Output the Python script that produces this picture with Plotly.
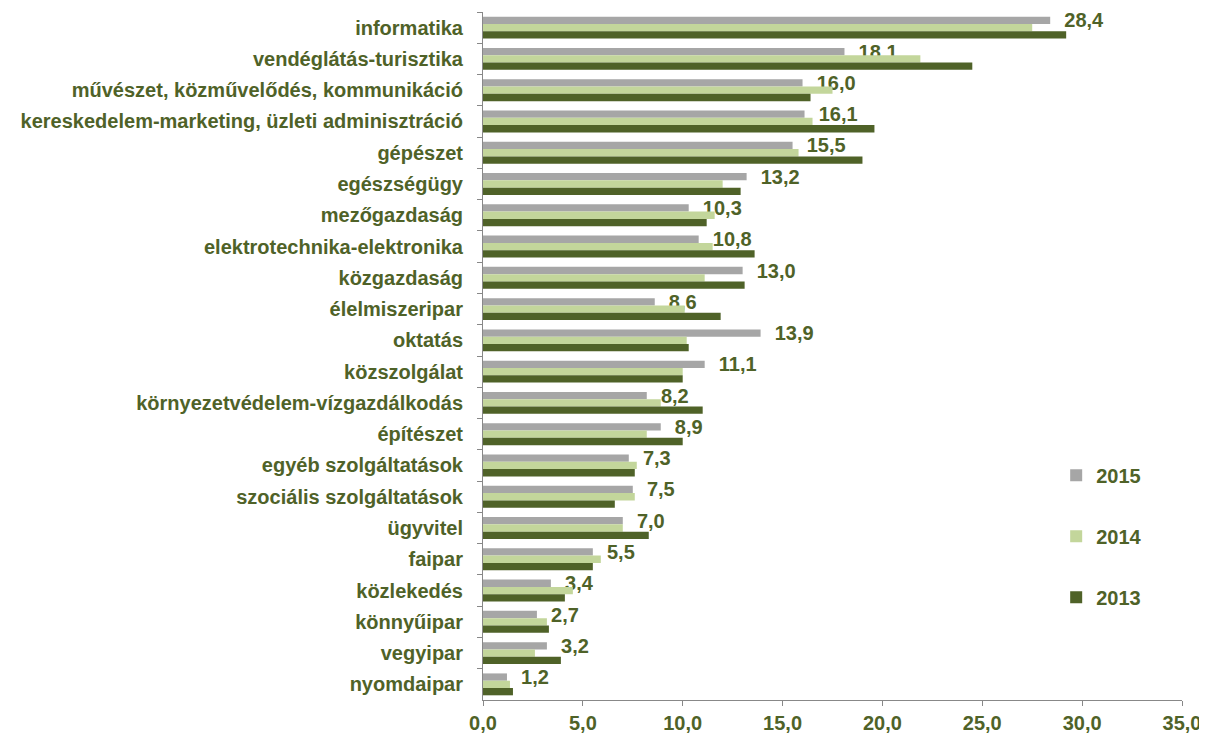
import plotly.graph_objects as go

categories = [
    "informatika", "vendéglátás-turisztika", "művészet, közművelődés, kommunikáció",
    "kereskedelem-marketing, üzleti adminisztráció", "gépészet", "egészségügy",
    "mezőgazdaság", "elektrotechnika-elektronika", "közgazdaság", "élelmiszeripar",
    "oktatás", "közszolgálat", "környezetvédelem-vízgazdálkodás", "építészet",
    "egyéb szolgáltatások", "szociális szolgáltatások", "ügyvitel", "faipar",
    "közlekedés", "könnyűipar", "vegyipar", "nyomdaipar",
]
v2015 = [28.4, 18.1, 16.0, 16.1, 15.5, 13.2, 10.3, 10.8, 13.0, 8.6, 13.9, 11.1,
         8.2, 8.9, 7.3, 7.5, 7.0, 5.5, 3.4, 2.7, 3.2, 1.2]
v2014 = [27.5, 21.9, 17.5, 16.5, 15.8, 12.0, 11.6, 11.5, 11.1, 10.1, 10.2, 10.0,
         8.9, 8.2, 7.7, 7.6, 7.0, 5.9, 4.5, 3.2, 2.6, 1.35]
v2013 = [29.2, 24.5, 16.4, 19.6, 19.0, 12.9, 11.2, 13.6, 13.1, 11.9, 10.3, 10.0,
         11.0, 10.0, 7.6, 6.6, 8.3, 5.5, 4.1, 3.3, 3.9, 1.5]
series_names = ["2015", "2014", "2013"]
tick_vals = [0, 5, 10, 15, 20, 25, 30, 35]

GREEN = "#4F6228"
colors = ["#A6A6A6", "#C3D69B", "#4F6228"]
FONT = "Liberation Sans, Arial, sans-serif"

fig = go.Figure()
for i, (name, vals) in enumerate(zip(series_names, [v2015, v2014, v2013])):
    kw = {}
    if name == "2015":
        kw = dict(text=["\u00a0\u00a0" + f"{v:.1f}".replace(".", ",") for v in vals],
                  textposition="outside", cliponaxis=False, constraintext="none",
                  textfont=dict(family=FONT, size=20, color=GREEN, weight="bold"))
    fig.add_trace(go.Bar(
        y=categories, x=vals, name=name, orientation="h",
        marker=dict(color=colors[i], line=dict(width=0)),
        legendgroup=name, hoverinfo="x+y", **kw,
    ))

fig.update_layout(
    width=1207, height=738,
    paper_bgcolor="white", plot_bgcolor="white",
    margin=dict(l=475, r=33, t=4, b=46),
    barmode="group", bargap=0.3, bargroupgap=0,
    separators=", ",
    font=dict(family=FONT, color=GREEN),
    showlegend=True,
    legend=dict(x=0.82, y=0.355, xanchor="left", yanchor="top",
                tracegroupgap=32, traceorder="grouped",
                font=dict(family=FONT, size=20, color=GREEN, weight="bold"),
                bgcolor="rgba(0,0,0,0)"),
    xaxis=dict(range=[0, 35], tickvals=tick_vals, tickformat=".1f",
               automargin=False,
               showgrid=False, zeroline=False, showline=True, linecolor="#888888",
               linewidth=1, ticks="outside", ticklen=5, tickcolor="#888888",
               tickfont=dict(family=FONT, size=20, color=GREEN, weight="bold")),
    yaxis=dict(autorange="reversed", showgrid=False, showline=True, automargin=False,
               linecolor="#888888", linewidth=1, ticks="outside", ticklen=5,
               tickcolor="#888888", tickson="boundaries",
               tickfont=dict(family=FONT, size=20, color=GREEN, weight="bold"),
               ticklabelstandoff=15),
)

fig.write_html("out.html")
